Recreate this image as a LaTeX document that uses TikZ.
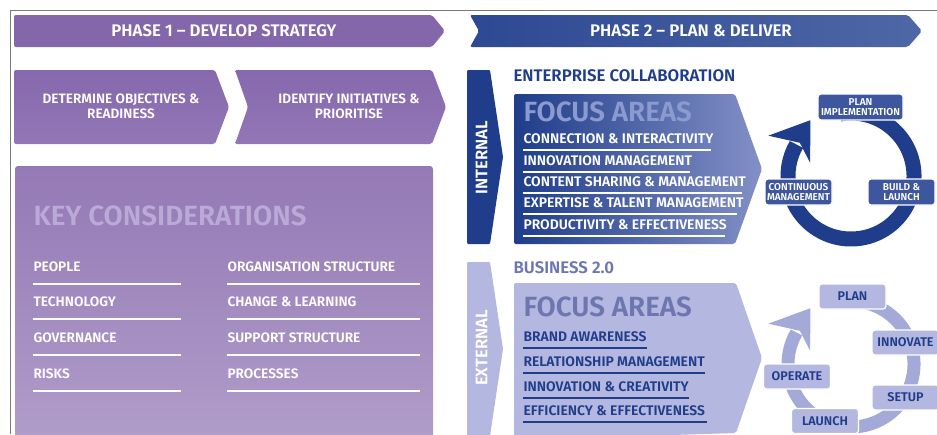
\documentclass[tikz,border=0pt]{standalone}
\usepackage{fontspec}
\setmainfont{Fira Sans}[BoldFont={Fira Sans SemiBold}]
\usepackage{tikz}
\usetikzlibrary{calc}

\definecolor{frameline}{HTML}{7A7A7A}
\definecolor{phaseone}{HTML}{8467AB}
\definecolor{stepA}{HTML}{8668AC}
\definecolor{stepB}{HTML}{9277B6}
\definecolor{keytop}{HTML}{9479B5}
\definecolor{keybot}{HTML}{B19DCA}
\definecolor{keyttl}{HTML}{BBAAD7}
\definecolor{phtwoA}{HTML}{2D4993}
\definecolor{phtwoB}{HTML}{4E67A6}
\definecolor{darkblue}{HTML}{1F3D8A}
\definecolor{focusB}{HTML}{8390C6}
\definecolor{focusttl}{HTML}{8C9BCF}
\definecolor{cyclebox}{HTML}{3E569D}
\definecolor{lightbar}{HTML}{B4B7DF}
\definecolor{busitext}{HTML}{6C76B5}
\definecolor{focusttlB}{HTML}{6E76B0}
\definecolor{ringB}{HTML}{A3AAD8}

\tikzset{
  phasetext/.style={text=white,font=\bfseries\fontsize{16.8}{18}\selectfont},
  steptext/.style={text=white,align=center,font=\bfseries\fontsize{13.6}{15}\selectfont},
  keyitem/.style={text=white,anchor=west,font=\bfseries\fontsize{13.7}{15}\selectfont},
  keyline/.style={white,line width=2},
  bigttl/.style={anchor=west,font=\bfseries\fontsize{27.8}{30}\selectfont},
  focusitem/.style={anchor=west,font=\bfseries\fontsize{13.9}{15}\selectfont},
  sidetext/.style={text=white,rotate=90,font=\bfseries\fontsize{16.7}{18}\selectfont},
  headtext/.style={anchor=west,font=\bfseries\fontsize{16.8}{18}\selectfont},
  cyclenode/.style={draw=white,line width=1.2,rounded corners=3,align=center,
    inner sep=0,font=\bfseries\fontsize{10}{10.5}\selectfont},
  cyclenodeB/.style={cyclenode,fill=lightbar,text=darkblue,minimum width=67,
    minimum height=25,font=\bfseries\fontsize{12.6}{13}\selectfont},
}

\begin{document}
\begin{tikzpicture}[x=1pt,y=-1pt]
\useasboundingbox (0,0) rectangle (937,434);
\fill[white] (0,0) rectangle (937,434);
\draw[frameline] (10,434) -- (10,10) -- (937,10);

\fill[phaseone,rounded corners=2] (14,15) -- (432,15) -- (445,31) -- (432,47) -- (14,47) -- cycle;
\node[phasetext] (ph1) at (224,31) {PHASE 1 – DEVELOP STRATEGY};
\shade[left color=phtwoA,right color=phtwoB,rounded corners=2] (470,15) -- (908,15) -- (922,31) -- (908,47) -- (470,47) -- (479,31) -- cycle;
\node[phasetext] (ph2) at (691,31) {PHASE 2 – PLAN \& DELIVER};

\shade[top color=stepA,bottom color=stepB,rounded corners=2] (14,70) -- (215,70) -- (229,107) -- (215,144) -- (14,144) -- cycle;
\node[steptext] (obj) at (121,106.5) {DETERMINE OBJECTIVES \&\\READINESS};
\shade[top color=stepA,bottom color=stepB,rounded corners=2] (235,70) -- (432,70) -- (446,107) -- (432,144) -- (235,144) -- (248,107) -- cycle;
\node[steptext] (init) at (349,106.5) {IDENTIFY INITIATIVES \&\\PRIORITISE};

\shade[top color=keytop,bottom color=keybot,rounded corners=3] (15,166) rectangle (433,445);
\node[bigttl,text=keyttl] (key) at (30,216) {KEY CONSIDERATIONS};
\foreach \y/\a/\b in {267/PEOPLE/ORGANISATION STRUCTURE,302/TECHNOLOGY/CHANGE \& LEARNING,
                      338/GOVERNANCE/SUPPORT STRUCTURE,374/RISKS/PROCESSES}{
  \node[keyitem] at (30,\y) {\a};
  \node[keyitem] at (224,\y) {\b};
  \draw[keyline] (33,\y+17) -- (181,\y+17);
  \draw[keyline] (227,\y+17) -- (420,\y+17);
}

\fill[darkblue,rounded corners=1] (467,70) -- (490,70) -- (503,157) -- (490,244) -- (467,244) -- cycle;
\node[sidetext] (int) at (481.5,158) {INTERNAL};
\node[headtext,text=darkblue] (ent) at (510,76) {ENTERPRISE COLLABORATION};
\shade[left color=darkblue,right color=focusB,rounded corners=2] (514,94) -- (735,94) -- (762,169) -- (735,244) -- (514,244) -- cycle;
\node[bigttl,text=focusttl] (fa1) at (520,112) {FOCUS AREAS};
\foreach \y/\w/\t in {139/711/CONNECTION \& INTERACTIVITY,161/690/INNOVATION MANAGEMENT,
                      182/742/CONTENT SHARING \& MANAGEMENT,203/737/EXPERTISE \& TALENT MANAGEMENT,
                      225/725/PRODUCTIVITY \& EFFECTIVENESS}{
  \node[focusitem,text=white] at (520,\y) {\t};
  \draw[keyline] (523,\y+10.5) -- (\w,\y+10.5);
}

\coordinate (c1) at (851,176);
\draw[darkblue,line width=15] ($(c1)+(-100:63)$) arc[start angle=-100,end angle=210,radius=63];
\fill[darkblue] ($(c1)+(206:92)$) -- ($(c1)+(234:69)$) -- ($(c1)+(198:43)$) -- ($(c1)+(213:61)$) -- cycle;
\node[cyclenode,fill=cyclebox,text=white,minimum width=85,minimum height=26] (pi) at (860.5,107) {PLAN\\IMPLEMENTATION};
\node[cyclenode,fill=cyclebox,text=white,minimum width=67,minimum height=26] (cm) at (798.5,192) {CONTINUOUS\\MANAGEMENT};
\node[cyclenode,fill=cyclebox,text=white,minimum width=67,minimum height=26] (bl) at (901.5,192) {BUILD \&\\LAUNCH};

\fill[lightbar,rounded corners=1] (467,262) -- (490,262) -- (503,349) -- (490,436) -- (467,440) -- cycle;
\node[sidetext] (ext) at (481.5,348) {EXTERNAL};
\node[headtext,text=busitext] (bus) at (510,268) {BUSINESS 2.0};
\fill[lightbar,rounded corners=2] (514,283) -- (736,283) -- (762,358) -- (736,433) -- (514,440) -- cycle;
\node[bigttl,text=focusttlB] (fa2) at (520,307) {FOCUS AREAS};
\foreach \y/\w/\t in {337/647/BRAND AWARENESS,361.5/705/RELATIONSHIP MANAGEMENT,
                      386.5/689/INNOVATION \& CREATIVITY,410.5/707/EFFICIENCY \& EFFECTIVENESS}{
  \node[focusitem,text=darkblue] at (520,\y) {\t};
  \draw[darkblue,line width=2] (523,\y+11) -- (\w,\y+11);
}

\coordinate (c2) at (851,364);
\draw[ringB,line width=13] ($(c2)+(-100:63)$) arc[start angle=-100,end angle=210,radius=63];
\fill[ringB] ($(c2)+(206:92)$) -- ($(c2)+(234:69)$) -- ($(c2)+(198:43)$) -- ($(c2)+(213:61)$) -- cycle;
\node[cyclenodeB] (plan) at (852.5,296.5) {PLAN};
\node[cyclenodeB] (inn) at (905.5,342.5) {INNOVATE};
\node[cyclenodeB] (set) at (905.5,397.5) {SETUP};
\node[cyclenodeB] (op) at (797,376.5) {OPERATE};
\node[cyclenodeB] (lau) at (825,421) {LAUNCH};
\end{tikzpicture}
\end{document}
